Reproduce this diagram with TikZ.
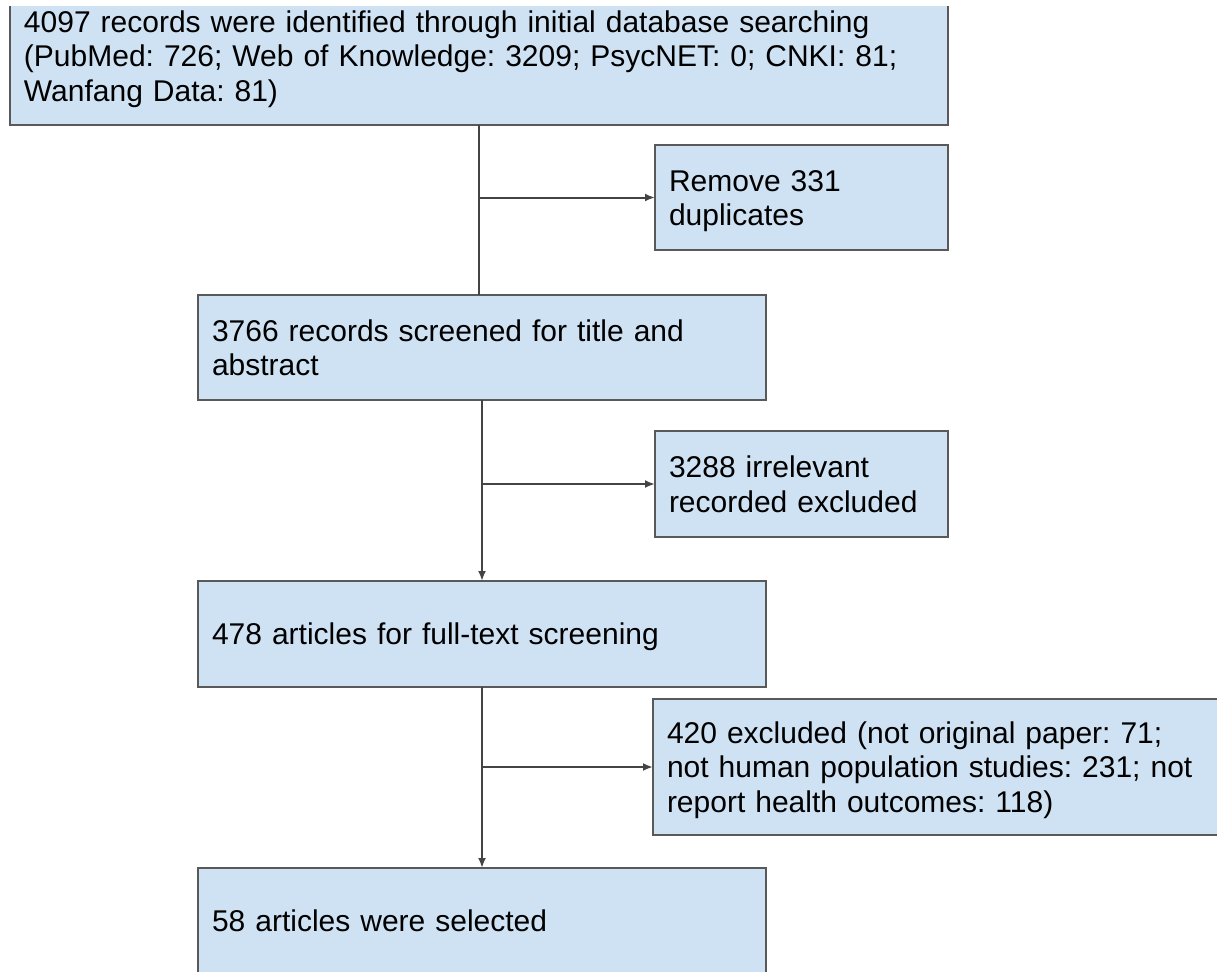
\documentclass[tikz,border=0pt]{standalone}
\usepackage{fontspec}
\setmainfont{Liberation Sans}
\usetikzlibrary{arrows.meta}
\definecolor{boxfill}{HTML}{CFE2F3}
\definecolor{boxline}{HTML}{595959}
\definecolor{linkline}{HTML}{444444}
\tikzset{>={Latex[length=5pt,width=4pt]}}
\frenchspacing

\begin{document}
\begin{tikzpicture}[x=0.5pt,y=-0.5pt,
  stage/.style={fill=boxfill,draw=boxline,line width=1pt,anchor=north west,outer sep=0pt,
    inner xsep=7pt,inner ysep=0pt,align=left,text height=10.75pt,text depth=0pt,
    font=\fontsize{15pt}{17.25pt}\selectfont},
  link/.style={draw=linkline,line width=1pt}]
  \useasboundingbox (0,0) rectangle (1217,971);
  % main column
  \node[stage,draw=none,text width=455pt,text height=13pt,text depth=46.5pt] (found) at (10,6)
    {4097 records were identified through initial database searching\\
     (PubMed: 726; Web of Knowledge: 3209; PsycNET: 0; CNKI: 81;\\
     Wanfang Data: 81)};
  \draw[boxline,line width=1pt] (found.north west) -- (found.south west) -- (found.south east) -- (found.north east);
  \node[stage,text width=270pt,minimum height=52.5pt,text depth=17.25pt] (screen) at (198,295)
    {3766 records screened for title and\\abstract};
  \node[stage,text width=270pt,minimum height=53pt] (full) at (198,581)
    {478 articles for full-text screening};
  \node[stage,text width=270pt,minimum height=53pt] (chosen) at (198,868)
    {58 articles were selected};
  % side boxes
  \node[stage,text width=132.5pt,minimum height=52.5pt,text depth=17.25pt] (dupl) at (655,145)
    {Remove 331\\duplicates};
  \node[stage,text width=132.5pt,minimum height=53pt,text depth=17.25pt] (irrel) at (655,431)
    {3288 irrelevant\\recorded excluded};
  \node[stage,text width=276pt,minimum height=68pt,text depth=34.5pt] (excl) at (653,699)
    {420 excluded (not original paper: 71;\\
     not human population studies: 231; not\\
     report health outcomes: 118)};
  % connectors
  \draw[link] (found.south) -- (found.south |- screen.north);
  \draw[link,->] (found.south |- dupl.west) -- (dupl.west);
  \draw[link,->] (screen.south) -- (full.north);
  \draw[link,->] (screen.south |- irrel.west) -- (irrel.west);
  \draw[link,->] (full.south) -- (chosen.north);
  \draw[link,->] (full.south |- excl.west) -- (excl.west);
\end{tikzpicture}
\end{document}
